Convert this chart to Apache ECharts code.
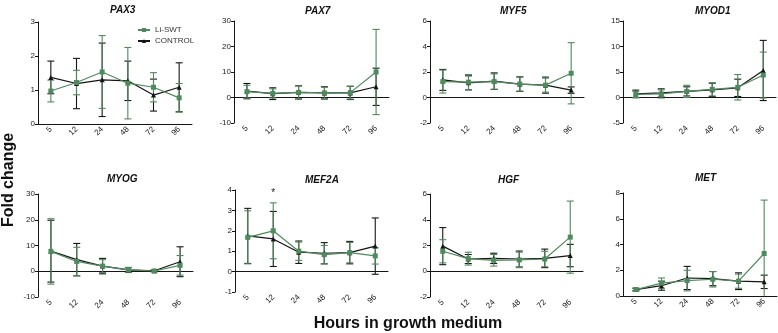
<!DOCTYPE html>
<html><head><meta charset="utf-8">
<script src="https://cdn.jsdelivr.net/npm/echarts@6/dist/echarts.min.js"></script>
<style>html,body{margin:0;padding:0;background:#fff}#c{width:778px;height:333px}</style>
</head><body><div id="c"></div>
<script>
const hours = ['5','12','24','48','72','96'];
const genes = ['PAX3','PAX7','MYF5','MYOD1','MYOG','MEF2A','HGF','MET'];

const pax3Li = [0.97,1.22,1.53,1.20,1.08,0.77];
const pax3LiSd = [0.32,0.36,1.07,1.05,0.43,0.42];
const pax3Ctrl = [1.37,1.19,1.30,1.27,0.85,1.08];
const pax3CtrlSd = [0.48,0.74,1.08,0.58,0.47,0.72];

const pax7Li = [2.3,1.6,2.0,1.8,1.9,10.0];
const pax7LiSd = [2.5,1.8,2.5,2.2,2.5,16.7];
const pax7Ctrl = [2.5,1.5,2.0,1.8,1.8,4.2];
const pax7CtrlSd = [3.0,2.3,2.6,2.4,2.6,7.3];

const myf5Li = [1.25,1.2,1.25,1.05,0.97,1.9];
const myf5LiSd = [0.9,0.6,0.6,0.55,0.55,2.4];
const myf5Ctrl = [1.38,1.15,1.28,1.05,0.97,0.58];
const myf5CtrlSd = [0.82,0.55,0.65,0.57,0.63,0.25];

const myod1Li = [0.6,0.7,1.2,1.6,2.0,4.4];
const myod1LiSd = [0.6,0.8,1.2,1.3,2.5,4.5];
const myod1Ctrl = [0.7,0.9,1.2,1.5,1.9,5.3];
const myod1CtrlSd = [0.75,0.8,0.9,1.3,1.7,5.9];

const myogLi = [7.7,3.8,2.0,0.5,0.1,2.3];
const myogLiSd = [12.7,5.5,2.5,1.0,0.4,3.8];
const myogCtrl = [7.8,4.5,2.0,0.5,0.2,3.7];
const myogCtrlSd = [12.0,6.3,3.0,0.9,0.3,5.8];

const mef2aLi = [1.68,2.0,1.0,0.83,0.93,0.77];
const mef2aLiSd = [1.3,1.37,0.45,0.45,0.5,0.4];
const mef2aCtrl = [1.75,1.6,0.95,0.9,0.93,1.25];
const mef2aCtrlSd = [1.35,1.35,0.55,0.52,0.55,1.38];

const hgfLi = [1.55,0.98,0.85,0.88,0.95,2.65];
const hgfLiSd = [0.9,0.5,0.45,0.6,0.6,2.8];
const hgfCtrl = [1.95,0.95,1.0,0.95,1.0,1.22];
const hgfCtrlSd = [1.44,0.35,0.4,0.62,0.72,0.87];

const metLi = [0.5,1.0,1.2,1.3,1.15,3.3];
const metLiSd = [0.1,0.4,0.8,0.6,0.55,4.15];
const metCtrl = [0.5,0.8,1.4,1.35,1.15,1.1];
const metCtrlSd = [0.1,0.35,0.9,0.55,0.65,0.52];

const yMin = [0,-10,-2,-5,-10,-1,-2,0];
const yMax = [3,30,6,15,30,4,6,8];
const yStep = [1,10,2,5,10,1,2,2];

const liData = [pax3Li,pax7Li,myf5Li,myod1Li,myogLi,mef2aLi,hgfLi,metLi];
const liSd = [pax3LiSd,pax7LiSd,myf5LiSd,myod1LiSd,myogLiSd,mef2aLiSd,hgfLiSd,metLiSd];
const ctrlData = [pax3Ctrl,pax7Ctrl,myf5Ctrl,myod1Ctrl,myogCtrl,mef2aCtrl,hgfCtrl,metCtrl];
const ctrlSd = [pax3CtrlSd,pax7CtrlSd,myf5CtrlSd,myod1CtrlSd,myogCtrlSd,mef2aCtrlSd,hgfCtrlSd,metCtrlSd];

// layout (pixels)
const grids = [
  {left:38, top:22, width:154, height:102},
  {left:234, top:21, width:155, height:102},
  {left:430, top:21, width:154, height:102},
  {left:623, top:21, width:153, height:102},
  {left:38, top:194, width:155, height:103},
  {left:235, top:190, width:153, height:102},
  {left:430, top:194, width:153, height:103},
  {left:623, top:193, width:154, height:103}
];
const titlePos = [[110,5],[305,6],[500,6],[695,6],[107,174],[305,175],[498,175],[695,173]];

const GREEN = '#4f8a5c';
const BLACK = '#151515';
const FONT = 'Liberation Sans, Arial, sans-serif';

function errSeries(gi, means, sds, color, name) {
  const lo = yMin[gi];
  return {
    type:'custom', name: name + ' error', xAxisIndex: gi, yAxisIndex: gi, z: 3,
    itemStyle:{color: color},
    data: means.map((m,i)=>[i, m - sds[i], m + sds[i]]),
    renderItem: function(params, api){
      const x = api.value(0);
      let a = api.value(1), b = api.value(2);
      let clipped = false;
      if (a < lo) { a = lo; clipped = true; }
      const p1 = api.coord([x, a]);
      const p2 = api.coord([x, b]);
      const w = 3.5;
      const st = {stroke: color, lineWidth: 1.1};
      const ch = [
        {type:'line', shape:{x1:p1[0], y1:p1[1], x2:p2[0], y2:p2[1]}, style: st},
        {type:'line', shape:{x1:p2[0]-w, y1:p2[1], x2:p2[0]+w, y2:p2[1]}, style: st}
      ];
      if (!clipped) ch.push({type:'line', shape:{x1:p1[0]-w, y1:p1[1], x2:p1[0]+w, y2:p1[1]}, style: st});
      return {type:'group', children: ch};
    },
    silent: true
  };
}

const option = {
  animation:false,
  backgroundColor:'#fff',
  textStyle:{fontFamily: FONT},
  grid: grids.map(g=>Object.assign({containLabel:false}, g)),
  xAxis: grids.map((g,i)=>({
    type:'category', gridIndex:i, data: hours, boundaryGap:true,
    axisLine:{onZero:true, lineStyle:{color:BLACK, width:1}},
    axisTick:{alignWithLabel:true, length:3, lineStyle:{color:BLACK}},
    axisLabel:{rotate:45, fontSize:8, color:'#222', margin:4, fontFamily:FONT},
    splitLine:{show:false}
  })),
  yAxis: grids.map((g,i)=>({
    type:'value', gridIndex:i, min:yMin[i], max:yMax[i], interval:yStep[i],
    axisLine:{show:true, onZero:false, lineStyle:{color:BLACK, width:1}},
    axisTick:{show:true, length:3, lineStyle:{color:BLACK}},
    axisLabel:{fontSize:8, color:'#222', margin:3, fontFamily:FONT},
    splitLine:{show:false}
  })),
  legend:{
    data:['Li-SWT','CONTROL'], orient:'vertical', left:132, top:21,
    itemWidth:12, itemHeight:5, itemGap:3,
    textStyle:{fontSize:8, color:'#333', fontFamily:FONT}
  },
  series: [],
  graphic: []
};

genes.forEach((g,i)=>{
  option.series.push(errSeries(i, ctrlData[i], ctrlSd[i], BLACK, 'CONTROL'));
  option.series.push({
    type:'line', name:'CONTROL', xAxisIndex:i, yAxisIndex:i, data: ctrlData[i],
    symbol:'triangle', symbolSize:5, z:4,
    lineStyle:{color:BLACK, width:1.2}, itemStyle:{color:BLACK}
  });
  option.series.push(errSeries(i, liData[i], liSd[i], GREEN, 'Li-SWT'));
  const li = {
    type:'line', name:'Li-SWT', xAxisIndex:i, yAxisIndex:i, data: liData[i],
    symbol:'rect', symbolSize:5, z:5,
    lineStyle:{color:GREEN, width:1.2}, itemStyle:{color:GREEN}
  };
  if (g === 'MEF2A') {
    li.markPoint = {
      symbol:'circle', symbolSize:1, silent:true,
      itemStyle:{color:'rgba(0,0,0,0)'},
      label:{show:true, formatter:'*', color:'#222', fontSize:10, position:'inside', offset:[0,3]},
      data:[{coord:['12', 4]}]
    };
  }
  option.series.push(li);
  option.graphic.push({
    type:'text', left: titlePos[i][0], top: titlePos[i][1],
    style:{text:g, font:'italic bold 10px ' + FONT, fill:'#111', textAlign:'center'}
  });
});

option.graphic.push({
  type:'text', x: 9, y: 180, rotation: Math.PI/2,
  style:{text:'Fold change', font:'bold 16px ' + FONT, fill:'#111', textAlign:'center', textVerticalAlign:'middle'}
});
option.graphic.push({
  type:'text', x: 408, y: 324,
  style:{text:'Hours in growth medium', font:'bold 16px ' + FONT, fill:'#111', textAlign:'center', textVerticalAlign:'middle'}
});

const chart = echarts.init(document.getElementById('c'), null, {renderer:'canvas'});
chart.setOption(option);
</script>
</body></html>
